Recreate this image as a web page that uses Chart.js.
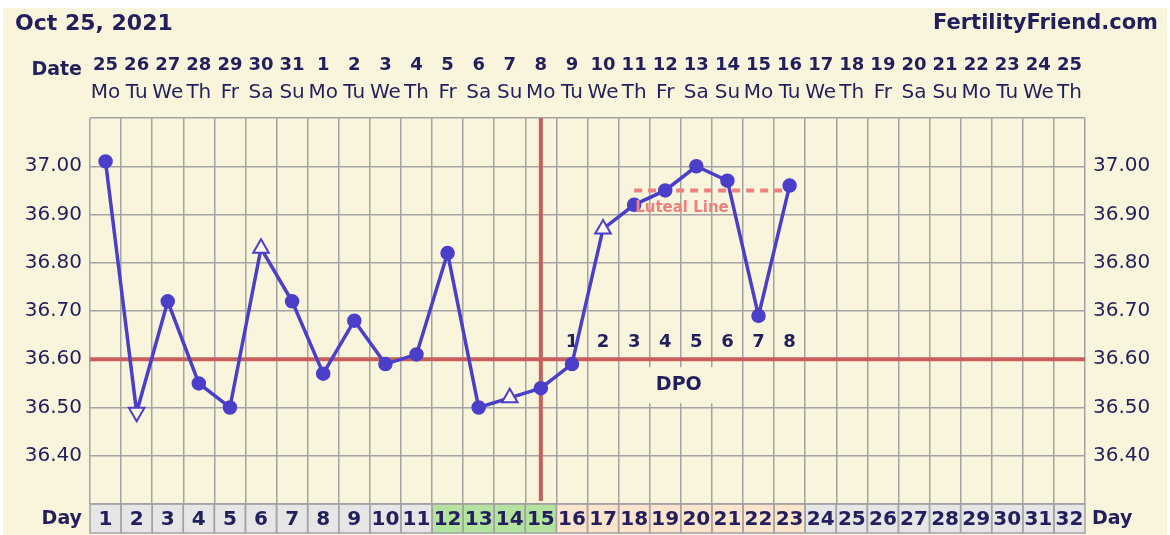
<!DOCTYPE html>
<html>
<head>
<meta charset="utf-8">
<script src="https://cdn.jsdelivr.net/npm/chart.js@4/dist/chart.umd.min.js"></script>
<style>
  html, body { margin: 0; padding: 0; background: #fff; }
  #wrap { width: 1170px; height: 535px; }
</style>
</head>
<body>
<div id="wrap"><canvas id="bbt" width="1170" height="535"></canvas></div>
<script>
const chartDate = "Oct 25, 2021";
const siteName = "FertilityFriend.com";

const cycleDays = ["1","2","3","4","5","6","7","8","9","10","11","12","13","14","15","16",
  "17","18","19","20","21","22","23","24","25","26","27","28","29","30","31","32"];
const dateLabels = ["25","26","27","28","29","30","31","1","2","3","4","5","6","7","8","9",
  "10","11","12","13","14","15","16","17","18","19","20","21","22","23","24","25"];
const weekdayLabels = ["Mo","Tu","We","Th","Fr","Sa","Su","Mo","Tu","We","Th","Fr","Sa","Su","Mo","Tu",
  "We","Th","Fr","Sa","Su","Mo","Tu","We","Th","Fr","Sa","Su","Mo","Tu","We","Th"];

const temps = [37.01, 36.49, 36.72, 36.55, 36.50, 36.83, 36.72, 36.57, 36.68, 36.59, 36.61,
  36.82, 36.50, 36.52, 36.54, 36.59, 36.87, 36.92, 36.95, 37.00, 36.97, 36.69, 36.96,
  null, null, null, null, null, null, null, null, null];
// "dot" = normal reading, "up"/"down" = open triangle markers
const markers = ["dot","down","dot","dot","dot","up","dot","dot","dot","dot","dot",
  "dot","dot","up","dot","dot","up","dot","dot","dot","dot","dot","dot",
  "dot","dot","dot","dot","dot","dot","dot","dot","dot"];

const coverline = 36.60;
const ovulationDay = 15;
const fertileDays = [12, 13, 14, 15];
const lutealValue = 36.95;
const lutealFrom = 18, lutealTo = 23;
const dpoDays = [16, 17, 18, 19, 20, 21, 22, 23];
const dpoLabels = ["1","2","3","4","5","6","7","8"];
const yTicks = [36.40, 36.50, 36.60, 36.70, 36.80, 36.90, 37.00];

const NAVY = "#221f5c";
const CREAM = "#f8f5dc";
const GRID = "#a3a3a3";
const BLUE = "#4b3ec9";
const RED = "#c85f5c";
const PINK = "#ee8080";
const FONT = "'DejaVu Sans', Verdana, sans-serif";

const lutealData = cycleDays.map((d, i) => (i + 1 >= lutealFrom && i + 1 <= lutealTo) ? lutealValue : null);

function cellColor(day) {
  if (fertileDays.includes(day)) return "#b4e39f";
  if (dpoDays.includes(day)) return "#fde4cc";
  return "#e6e6e6";
}

const decor = {
  id: "decor",
  beforeDraw(chart) {
    const { ctx, chartArea, scales: { x } } = chart;
    ctx.save();
    ctx.fillStyle = "#fff";
    ctx.fillRect(0, 0, chart.width, chart.height);
    ctx.fillStyle = CREAM;
    ctx.fillRect(3, 8, chart.width - 6, chart.height - 8);
    // day cells under the plot
    const w = x.getPixelForValue(1) - x.getPixelForValue(0);
    const top = chartArea.bottom, h = 29;
    cycleDays.forEach((d, i) => {
      const cx = x.getPixelForValue(i);
      ctx.fillStyle = cellColor(i + 1);
      ctx.fillRect(cx - w / 2, top, w, h);
    });
    ctx.strokeStyle = GRID;
    ctx.lineWidth = 1.5;
    cycleDays.forEach((d, i) => {
      const cx = x.getPixelForValue(i);
      ctx.strokeRect(cx - w / 2, top, w, h);
    });
    ctx.restore();
  },
  beforeDatasetsDraw(chart) {
    const { ctx, chartArea, scales: { x, y } } = chart;
    ctx.save();
    // coverline
    const cy = y.getPixelForValue(coverline);
    ctx.strokeStyle = RED;
    ctx.lineWidth = 4;
    ctx.beginPath();
    ctx.moveTo(chartArea.left, cy);
    ctx.lineTo(chartArea.right, cy);
    ctx.stroke();
    // ovulation line
    const ox = x.getPixelForValue(ovulationDay - 1);
    ctx.beginPath();
    ctx.moveTo(ox, chartArea.top);
    ctx.lineTo(ox, chartArea.bottom - 3);
    ctx.stroke();
    // DPO numbers
    ctx.fillStyle = NAVY;
    ctx.font = "bold 18px " + FONT;
    ctx.textAlign = "center";
    ctx.textBaseline = "middle";
    dpoDays.forEach((d, i) => {
      ctx.fillText(dpoLabels[i], x.getPixelForValue(d - 1), cy - 17);
    });
    // DPO label box
    const mid = (x.getPixelForValue(dpoDays[0] - 1) + x.getPixelForValue(dpoDays[dpoDays.length - 1] - 1)) / 2;
    ctx.fillStyle = CREAM;
    ctx.fillRect(mid - 42, cy + 8, 80, 36);
    ctx.fillStyle = NAVY;
    ctx.font = "bold 19px " + FONT;
    ctx.fillText("DPO", mid - 2, cy + 26);
    ctx.restore();
  },
  afterDatasetsDraw(chart) {
    const { ctx, scales: { x, y } } = chart;
    ctx.save();
    ctx.fillStyle = PINK;
    ctx.font = "bold 15px " + FONT;
    ctx.textAlign = "left";
    ctx.textBaseline = "middle";
    ctx.fillText("Luteal Line", x.getPixelForValue(lutealFrom - 1) + 1, y.getPixelForValue(lutealValue) + 18);
    ctx.restore();
  },
  afterDraw(chart) {
    const { ctx, chartArea } = chart;
    ctx.save();
    ctx.fillStyle = NAVY;
    ctx.textBaseline = "middle";
    ctx.font = "bold 22px " + FONT;
    ctx.textAlign = "left";
    ctx.fillText(chartDate, 15, 24);
    ctx.font = "bold 21px " + FONT;
    ctx.textAlign = "right";
    ctx.fillText(siteName, 1158, 24);
    ctx.font = "bold 19px " + FONT;
    ctx.fillText("Date", 82, 70);
    ctx.fillText("Day", 82, chartArea.bottom + 15);
    ctx.textAlign = "left";
    ctx.fillText("Day", 1092, chartArea.bottom + 15);
    ctx.restore();
  }
};

const tickFont = { family: FONT, size: 20 };

new Chart(document.getElementById("bbt"), {
  type: "line",
  data: {
    labels: cycleDays,
    datasets: [
      {
        label: "Temperature",
        data: temps,
        borderColor: BLUE,
        borderWidth: 3.5,
        tension: 0,
        order: 0,
        pointStyle: markers.map(m => m === "dot" ? "circle" : "triangle"),
        rotation: markers.map(m => m === "down" ? 180 : 0),
        pointRadius: markers.map(m => m === "dot" ? 6.5 : 9),
        pointBackgroundColor: markers.map(m => m === "dot" ? BLUE : "#fcfaee"),
        pointBorderColor: BLUE,
        pointBorderWidth: markers.map(m => m === "dot" ? 1.5 : 2),
        xAxisID: "x",
        yAxisID: "y"
      },
      {
        label: "Luteal Line",
        data: lutealData,
        borderColor: PINK,
        borderWidth: 4,
        borderDash: [8, 6],
        pointRadius: 0,
        order: 1,
        xAxisID: "x",
        yAxisID: "y"
      }
    ]
  },
  plugins: [decor],
  options: {
    responsive: false,
    animation: false,
    events: [],
    layout: { padding: { top: 50, left: 0, right: 0, bottom: 0 } },
    plugins: { legend: { display: false }, title: { display: false }, tooltip: { enabled: false } },
    scales: {
      x: {
        type: "category",
        position: "bottom",
        offset: true,
        grid: { offset: true, color: GRID, lineWidth: 1.5, drawTicks: false },
        border: { display: false },
        ticks: { color: NAVY, font: { family: FONT, size: 20, weight: "bold" }, padding: 4, maxRotation: 0, autoSkip: false },
        afterFit(s) { s.height = 31; }
      },
      xDate: {
        type: "category",
        position: "top",
        labels: dateLabels,
        offset: true,
        weight: 2,
        grid: { display: false, drawTicks: false },
        border: { display: false },
        ticks: { color: NAVY, font: { family: FONT, size: 18, weight: "bold" }, padding: 6, maxRotation: 0, autoSkip: false },
        afterFit(s) { s.height = 32; }
      },
      xDow: {
        type: "category",
        position: "top",
        labels: weekdayLabels,
        offset: true,
        weight: 1,
        grid: { display: false, drawTicks: false },
        border: { display: false },
        ticks: { color: NAVY, font: { family: FONT, size: 20 }, padding: 13, maxRotation: 0, autoSkip: false },
        afterFit(s) { s.height = 36; }
      },
      y: {
        position: "left",
        min: 36.30,
        max: 37.10,
        grid: { color: GRID, lineWidth: 1.5, drawTicks: false },
        border: { display: false },
        ticks: {
          stepSize: 0.05,
          color: NAVY,
          font: tickFont,
          padding: 8,
          callback: v => yTicks.some(t => Math.abs(t - v) < 0.001) ? v.toFixed(2) : ""
        },
        afterFit(s) { s.width = 90; }
      },
      y2: {
        position: "right",
        min: 36.30,
        max: 37.10,
        grid: { display: false, drawTicks: false },
        border: { display: false },
        ticks: {
          stepSize: 0.05,
          color: NAVY,
          font: tickFont,
          padding: 8,
          callback: v => yTicks.some(t => Math.abs(t - v) < 0.001) ? v.toFixed(2) : ""
        },
        afterFit(s) { s.width = 85; }
      }
    }
  }
});
</script>
</body>
</html>
